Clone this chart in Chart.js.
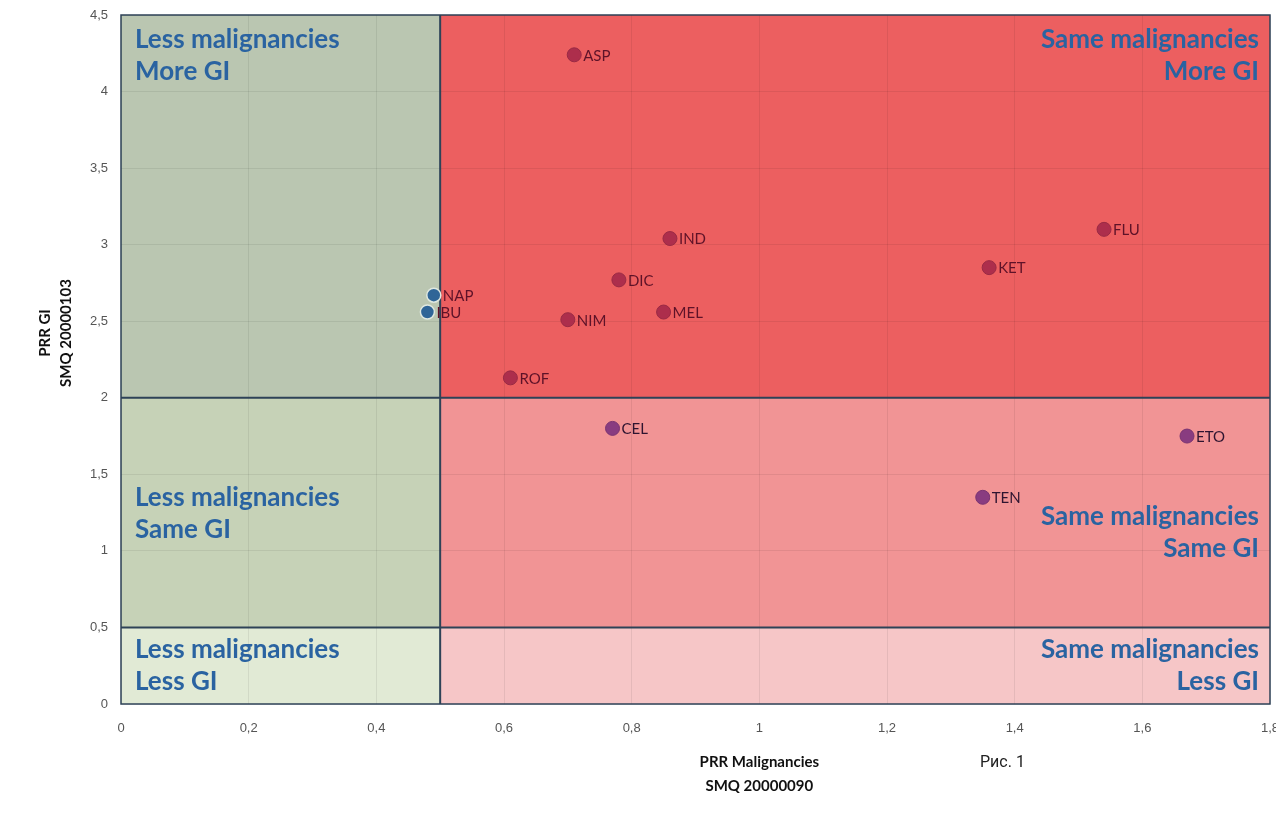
<!DOCTYPE html>
<html>
<head>
<meta charset="utf-8">
<script src="https://cdn.jsdelivr.net/npm/chart.js@4"></script>
<style>
  html, body { margin: 0; padding: 0; background: #fff; }
  .wrap { position: relative; width: 1276px; height: 822px; overflow: hidden; }
  canvas { position: absolute; left: 0; top: 0; }
  .fig { position: absolute; left: 980px; top: 752px; font: 16px Roboto, sans-serif; color: #222; }
</style>
</head>
<body>
<div class="wrap">
  <canvas id="chart" width="1300" height="822"></canvas>
  <div class="fig">Рис. 1</div>
</div>
<script>
// drugs coloured by group
const redNames = ["ASP", "IND", "FLU", "KET", "DIC", "NIM", "MEL", "ROF"];
const redX = [0.71, 0.86, 1.54, 1.36, 0.78, 0.70, 0.85, 0.61];
const redY = [4.24, 3.04, 3.10, 2.85, 2.77, 2.51, 2.56, 2.13];

const blueNames = ["NAP", "IBU"];
const blueX = [0.49, 0.48];
const blueY = [2.67, 2.56];

const purpleNames = ["CEL", "ETO", "TEN"];
const purpleX = [0.77, 1.67, 1.35];
const purpleY = [1.80, 1.75, 1.35];

// quadrant split lines
const xSplit = 0.5;
const ySplits = [0.5, 2];

const xTitle = ["PRR Malignancies", "SMQ 20000090"];
const yTitle = ["PRR GI", "SMQ 20000103"];

const toPoints = (xs, ys) => xs.map((x, i) => ({ x: x, y: ys[i] }));
const comma = v => String(Number(v.toFixed(1))).replace(".", ",");

const quadrantPlugin = {
  id: "quadrants",
  beforeDraw(chart) {
    const { ctx, chartArea: a, scales: { x, y } } = chart;
    const xs = x.getPixelForValue(xSplit);
    const y1 = y.getPixelForValue(ySplits[1]);
    const y0 = y.getPixelForValue(ySplits[0]);
    ctx.save();
    const fill = (c, l, t, r, b) => { ctx.fillStyle = c; ctx.fillRect(l, t, r - l, b - t); };
    fill("#bac6b1", a.left, a.top, xs, y1);
    fill("#ec5f60", xs, a.top, a.right, y1);
    fill("#c6d2b7", a.left, y1, xs, y0);
    fill("#f19495", xs, y1, a.right, y0);
    fill("#e1ead5", a.left, y0, xs, a.bottom);
    fill("#f6c6c7", xs, y0, a.right, a.bottom);
    ctx.restore();
  },
  beforeDatasetsDraw(chart) {
    const { ctx, chartArea: a, scales: { x, y } } = chart;
    const xs = x.getPixelForValue(xSplit);
    const y1 = y.getPixelForValue(ySplits[1]);
    const y0 = y.getPixelForValue(ySplits[0]);
    ctx.save();
    ctx.strokeStyle = "#2e4257";
    ctx.lineWidth = 2;
    ctx.beginPath();
    ctx.moveTo(xs, a.top); ctx.lineTo(xs, a.bottom);
    ctx.moveTo(a.left, y1); ctx.lineTo(a.right, y1);
    ctx.moveTo(a.left, y0); ctx.lineTo(a.right, y0);
    ctx.stroke();
    ctx.lineWidth = 1.5;
    ctx.strokeRect(a.left, a.top, a.right - a.left, a.bottom - a.top);

    // quadrant captions
    ctx.font = "bold 26px Lato, sans-serif";
    ctx.fillStyle = "#2a63a1";
    ctx.textBaseline = "middle";
    const cap = (lines, tx, ty, align) => {
      ctx.textAlign = align;
      lines.forEach((s, i) => ctx.fillText(s, tx, ty + i * 32));
    };
    const L = a.left + 14, R = a.right - 11;
    cap(["Less malignancies", "More GI"], L, a.top + 25, "left");
    cap(["Same malignancies", "More GI"], R, a.top + 25, "right");
    cap(["Less malignancies", "Same GI"], L, 498, "left");
    cap(["Same malignancies", "Same GI"], R, 517, "right");
    cap(["Less malignancies", "Less GI"], L, y0 + 22, "left");
    cap(["Same malignancies", "Less GI"], R, y0 + 22, "right");

    // axis titles
    ctx.fillStyle = "#111";
    ctx.font = "bold 15px Lato, sans-serif";
    ctx.textAlign = "center";
    const cx = x.getPixelForValue(1);
    ctx.fillText(xTitle[0], cx, 762);
    ctx.fillText(xTitle[1], cx, 786);
    ctx.translate(45, 333);
    ctx.rotate(-Math.PI / 2);
    ctx.fillText(yTitle[0], 0, 0);
    ctx.fillText(yTitle[1], 0, 21);
    ctx.restore();
  },
  afterDatasetsDraw(chart) {
    const { ctx } = chart;
    const names = [redNames, blueNames, purpleNames];
    const colors = ["#5e1228", "#5e1228", "#2e1430"];
    ctx.save();
    ctx.font = "15px Lato, sans-serif";
    ctx.textAlign = "left";
    ctx.textBaseline = "middle";
    chart.data.datasets.forEach((ds, d) => {
      chart.getDatasetMeta(d).data.forEach((pt, i) => {
        ctx.fillStyle = colors[d];
        ctx.fillText(names[d][i], pt.x + 9, pt.y + 1);
      });
    });
    ctx.restore();
  }
};

new Chart(document.getElementById("chart"), {
  type: "scatter",
  data: {
    datasets: [
      { label: "same", data: toPoints(redX, redY), backgroundColor: "#ad2e4c", borderColor: "#9a2a44", borderWidth: 1, pointRadius: 7 },
      { label: "less", data: toPoints(blueX, blueY), backgroundColor: "#2f6597", borderColor: "#dfe8e0", borderWidth: 1.5, pointRadius: 7 },
      { label: "mixed", data: toPoints(purpleX, purpleY), backgroundColor: "#893c80", borderColor: "#7a3472", borderWidth: 1, pointRadius: 7 }
    ]
  },
  options: {
    responsive: false,
    animation: false,
    devicePixelRatio: 1,
    layout: { padding: { top: 15, right: 30, left: 0, bottom: 0 } },
    plugins: { legend: { display: false }, tooltip: { enabled: false } },
    scales: {
      x: {
        type: "linear", min: 0, max: 1.8,
        afterFit: s => { s.height = 118; },
        grid: { color: "rgba(0,0,0,0.07)", tickColor: "transparent", tickLength: 14 },
        border: { display: false },
        ticks: { stepSize: 0.2, padding: 3, color: "#555", font: { family: "Liberation Sans", size: 13 }, callback: v => comma(v), maxRotation: 0, autoSkip: false }
      },
      y: {
        type: "linear", min: 0, max: 4.5,
        afterFit: s => { s.width = 121; },
        grid: { color: "rgba(0,0,0,0.07)", tickColor: "transparent", tickLength: 10 },
        border: { display: false },
        ticks: { stepSize: 0.5, padding: 3, color: "#555", font: { family: "Liberation Sans", size: 13 }, callback: v => comma(v) }
      }
    }
  },
  plugins: [quadrantPlugin]
});
</script>
</body>
</html>
